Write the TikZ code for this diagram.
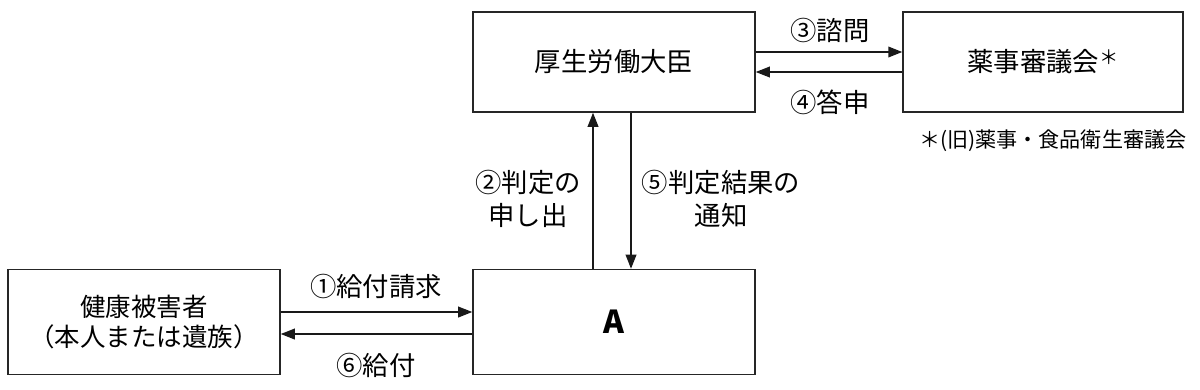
\documentclass[tikz,border=0pt]{standalone}
\usepackage{fontspec}
\setmainfont{Noto Sans CJK JP}
\usetikzlibrary{arrows.meta,calc}

\begin{document}
\begin{tikzpicture}[
    x=0.02cm, y=-0.02cm,
    font=\fontsize{15}{19}\selectfont,
    >={Triangle[length=8pt,width=6pt]},
    caja/.style={draw=black!85, line width=0.8pt, align=center, inner sep=0pt},
    flecha/.style={->, line width=1.1pt, black!90},
    etiqueta/.style={align=center, inner sep=0pt}
  ]

    % --- Marco ---
    \useasboundingbox (0,0) rectangle (1200,389);

    % --- Cajas ---
    \node[caja, minimum width=282*0.02cm, minimum height=100*0.02cm] (ministro) at (614,62) {厚生労働大臣};
    \node[caja, minimum width=280*0.02cm, minimum height=100*0.02cm] (consejo) at (1043,62) {薬事審議会\raisebox{0.5ex}{\fontsize{11}{11}\selectfont ＊}};
    \node[caja, minimum width=282*0.02cm, minimum height=105*0.02cm, font=\fontsize{18}{20}\selectfont\bfseries] (agencia) at (614,322) {A};
    \node[caja, minimum width=272*0.02cm, minimum height=105*0.02cm, font=\fontsize{14.5}{17}\selectfont] (victima) at (144,322) {健康被害者\\（本人または遺族）};

    % Nota al pie
    \node[etiqueta, anchor=east, font=\fontsize{12}{14}\selectfont] (nota) at ($(consejo.south east)+(3,28)$) {＊(旧)薬事・食品衛生審議会};

    % --- Flechas superiores ---
    \draw[flecha] ($(ministro.east)+(0,-10)$) -- ($(consejo.west)+(0,-10)$);
    \draw[flecha] ($(consejo.west)+(0,10)$) -- ($(ministro.east)+(0,10)$);
    \node[etiqueta] (consulta) at (830,30) {③諮問};
    \node[etiqueta] (respuesta) at (830,102) {④答申};

    % --- Flechas verticales ---
    \draw[flecha] ($(agencia.north)+(-21,0)$) -- ($(ministro.south)+(-21,0)$);
    \draw[flecha] ($(ministro.south)+(17,0)$) -- ($(agencia.north)+(17,0)$);
    \node[etiqueta, font=\fontsize{15}{18.5}\selectfont] (solicitud) at (528,199) {②判定の\\申し出};
    \node[etiqueta, font=\fontsize{15}{18.5}\selectfont] (aviso) at (721,199) {⑤判定結果の\\通知};

    % --- Flechas inferiores ---
    \draw[flecha] ($(victima.east)+(0,-10)$) -- ($(agencia.west)+(0,-10)$);
    \draw[flecha] ($(agencia.west)+(0,12)$) -- ($(victima.east)+(0,12)$);
    \node[etiqueta] (pedido) at (376,286) {①給付請求};
    \node[etiqueta] (pago) at (376,365) {⑥給付};

  \end{tikzpicture}
\end{document}
